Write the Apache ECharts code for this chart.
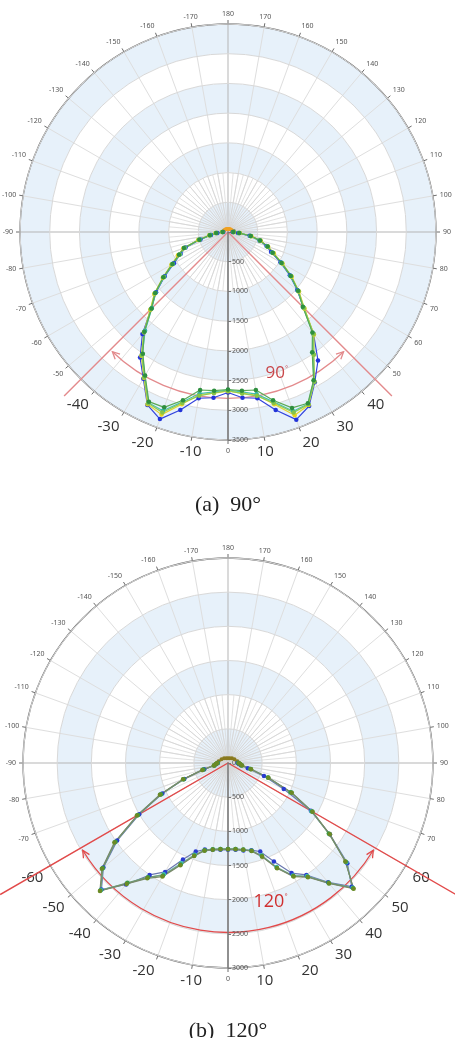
<!DOCTYPE html>
<html>
<head>
<meta charset="utf-8">
<script src="https://cdn.jsdelivr.net/npm/echarts@6/dist/echarts.min.js"></script>
<style>
html, body { margin: 0; padding: 0; background: #fff; }
#chart { width: 455px; height: 1038px; }
</style>
</head>
<body>
<div id="chart"></div>
<script>
// measuring angles of the front half, degrees (0 = straight down, + to the right)
var angles = [-90,-85,-80,-75,-70,-65,-60,-55,-50,-45,-40,-35,-30,-25,-20,-15,-10,-5,0,5,10,15,20,25,30,35,40,45,50,55,60,65,70,75,80,85,90];
// back half, only a few small values near the centre
var backAngles = [100,120,140,160,180,-160,-140,-120,-100];

// (a) 90 deg
var blueA   = [80,180,290,480,760,880,1050,1300,1580,1830,2240,2580,2850,3210,3350,3100,2840,2800,2700,2800,2840,3100,3360,3230,2920,2640,2240,1800,1520,1270,1020,800,690,550,370,170,80];
var greenA  = [90,200,310,500,790,910,1080,1330,1600,1820,2190,2500,2790,3150,3140,2930,2700,2680,2650,2680,2700,2930,3150,3180,2880,2470,2210,1780,1540,1290,1040,830,710,560,390,190,90];
var yellowA = [100,210,320,520,800,930,1100,1340,1620,1850,2200,2540,2830,3200,3270,3000,2780,2720,2680,2720,2790,3000,3280,3210,2900,2510,2250,1820,1560,1310,1060,850,720,570,400,200,100];
var tealA   = [90,195,300,490,770,890,1070,1310,1590,1810,2170,2510,2800,3170,3200,2960,2760,2700,2660,2700,2770,2960,3210,3190,2890,2490,2220,1790,1530,1280,1030,820,700,550,380,185,90];
var limeA   = [95,205,315,510,780,900,1090,1320,1610,1840,2200,2530,2820,3180,3230,2980,2800,2720,2670,2730,2800,2980,3230,3200,2910,2520,2240,1810,1550,1300,1050,840,710,560,390,195,95];
var backA   = [80,70,60,55,50,55,60,70,80];

// (b) 120 deg
var blueB  = [150,170,200,360,680,1060,1500,1980,2380,2620,2320,2000,1840,1560,1380,1310,1290,1275,1270,1275,1300,1320,1380,1590,1860,2000,2280,2560,2280,1820,1400,900,560,300,190,160,140];
var oliveB = [160,180,210,390,700,1100,1540,2030,2410,2650,2310,2060,1920,1650,1450,1330,1290,1268,1263,1268,1290,1335,1460,1700,1920,2040,2300,2600,2240,1820,1430,1030,630,350,210,180,160];
var greenB = [150,175,205,370,690,1080,1520,2010,2390,2640,2290,2040,1900,1640,1440,1320,1280,1262,1258,1262,1285,1330,1450,1690,1910,2030,2290,2590,2250,1800,1420,1010,620,340,200,175,150];
var tealB  = [155,178,208,380,695,1090,1530,2020,2400,2630,2300,2050,1880,1620,1430,1325,1285,1265,1260,1265,1288,1328,1440,1680,1900,2020,2295,2580,2260,1810,1410,1020,625,345,205,178,155];
var backB  = [140,110,90,75,70,75,90,110,140];

// beam angle marks: half angle, ray length, arc radius, label radius/angle
var beamA = { half: 45, ray: 3900, arcR: 2800, arcHalf: 44, text: '90', textR: 2520, textAng: 19 };
var beamB = { half: 60, ray: 3850, arcR: 2480, arcHalf: 59, text: '120', textR: 2130, textAng: 17 };

var panels = [
  { cy: 232, r: 208, max: 3500, big: 40, beam: beamA, red: '#e38a8c', redText: '#c9474a', fs: 17,
    back: backA, backColor: '#f0a020',
    curves: [
      { v: blueA, line: '#3344dd', dot: '#2233d8' },
      { v: yellowA, line: '#e6d42a', dot: '#e8d41c' },
      { v: tealA, line: '#48bfb0', dot: '#35b5a5' },
      { v: limeA, line: '#8fcc55', dot: '#86c448' },
      { v: greenA, line: '#5aaa55', dot: '#2f8f3f' }
    ] },
  { cy: 763, r: 205, max: 3000, big: 60, beam: beamB, red: '#e24a4a', redText: '#d03030', fs: 18,
    back: backB, backColor: '#8a7a1e',
    curves: [
      { v: blueB, line: '#6a78b0', dot: '#2a3bd0' },
      { v: tealB, line: '#78b8b4', dot: '#40c0b8' },
      { v: greenB, line: '#6e9c72', dot: '#3a9a45' },
      { v: oliveB, line: '#7a8a6a', dot: '#6b8a25' }
    ] }
];

function toAxis(a) { return a < 0 ? a + 360 : a; }

function angleLabel(bigLimit) {
  return function (v) {
    if (v >= 360) return '';
    var d = v > 180 ? v - 360 : v;
    if (d !== 0 && Math.abs(d) <= bigLimit) return '{big|' + d + '}';
    return '{small|' + d + '}';
  };
}

// two rays, the arc with an arrow head on both ends, and the angle text
function beamRender(params, api, p) {
  var r = api.value(0), a1 = api.value(1), a2 = api.value(2);
  var c = api.coord([0, 0]);
  var p1 = api.coord([r, a1]);
  var p2 = api.coord([r, a2]);
  var rad = Math.sqrt((p1[0] - c[0]) * (p1[0] - c[0]) + (p1[1] - c[1]) * (p1[1] - c[1]));
  var t1 = Math.atan2(p1[1] - c[1], p1[0] - c[0]);
  var t2 = Math.atan2(p2[1] - c[1], p2[0] - c[0]);
  var color = p.red;
  var tp = api.coord([api.value(3), api.value(4)]);
  // rays longer than the axis: scale the edge point outwards
  var k = api.value(6) / p.max;
  var e1 = api.coord([p.max, api.value(7)]);
  var e2 = api.coord([p.max, api.value(8)]);
  function far(e) { return [c[0] + (e[0] - c[0]) * k, c[1] + (e[1] - c[1]) * k]; }
  function head(pt, dx, dy) {
    var L = 8, s = 0.45;
    var cs = Math.cos(s), sn = Math.sin(s);
    var w1 = [pt[0] - L * (dx * cs - dy * sn), pt[1] - L * (dx * sn + dy * cs)];
    var w2 = [pt[0] - L * (dx * cs + dy * sn), pt[1] - L * (-dx * sn + dy * cs)];
    return { type: 'polyline', shape: { points: [w1, pt, w2] }, style: { stroke: color, lineWidth: 1.3, fill: null } };
  }
  return {
    type: 'group',
    children: [
      { type: 'polyline', shape: { points: [far(e1), c, far(e2)] }, style: { stroke: color, lineWidth: 1.4, fill: null } },
      { type: 'arc', shape: { cx: c[0], cy: c[1], r: rad, startAngle: t2, endAngle: t1, clockwise: true },
        style: { stroke: color, lineWidth: 1.3, fill: null } },
      head(p1, -Math.sin(t1), Math.cos(t1)),
      head(p2, Math.sin(t2), -Math.cos(t2)),
      { type: 'text', x: tp[0], y: tp[1],
        style: { text: api.value(5) + '{d|°}', fill: p.redText, fontSize: p.fs,
          fontFamily: 'Open Sans', align: 'center', verticalAlign: 'middle',
          rich: { d: { fontSize: 8, verticalAlign: 'top', padding: [0, 0, 8, 0] } } } }
    ]
  };
}

var option = {
  animation: false,
  polar: [],
  angleAxis: [],
  radiusAxis: [],
  series: [],
  graphic: [
    { type: 'text', x: 228, y: 505, style: { text: '(a)  90°', fontSize: 22, fontFamily: 'Liberation Serif', fill: '#222', align: 'center', verticalAlign: 'middle' } },
    { type: 'text', x: 228, y: 1031, style: { text: '(b)  120°', fontSize: 22, fontFamily: 'Liberation Serif', fill: '#222', align: 'center', verticalAlign: 'middle' } }
  ]
};

// darker line every 90 deg
var spokeColors = ['#b5b5b5', '#dedede', '#dedede', '#dedede', '#dedede', '#dedede', '#dedede', '#dedede', '#dedede'];
var hidden = { axisLine: { show: false }, axisTick: { show: false }, axisLabel: { show: false }, splitLine: { show: false } };

panels.forEach(function (p) {
  var base = option.polar.length;
  var main = base + 1;
  // base: only the shaded rings
  option.polar.push({ center: [228, p.cy], radius: p.r });
  // main: lines, labels and series
  option.polar.push({ center: [228, p.cy], radius: p.r });
  // denser spokes near the centre
  option.polar.push({ center: [228, p.cy], radius: p.r * 1000 / p.max });

  option.angleAxis.push(Object.assign({ polarIndex: base, type: 'value', min: 0, max: 360, startAngle: 270, clockwise: false, z: 0 }, hidden));
  option.radiusAxis.push(Object.assign({ polarIndex: base, type: 'value', min: 0, max: p.max, interval: 500, z: 0 }, hidden,
    { splitArea: { show: true, areaStyle: { color: ['#e7f1fa', '#ffffff'] } } }));

  option.angleAxis.push({
    polarIndex: main, type: 'value', min: 0, max: 360, interval: 10,
    startAngle: 270, clockwise: false, z: 1,
    axisLine: { lineStyle: { color: '#6c6c6c', width: 1.3 } },
    axisTick: { show: true, length: 4, lineStyle: { color: '#6c6c6c' } },
    axisLabel: {
      margin: 7, formatter: angleLabel(p.big),
      rich: {
        small: { fontSize: 7, color: '#555', fontFamily: 'Noto Sans' },
        big: { fontSize: 15, color: '#333', fontFamily: 'Open Sans', padding: [1, 1, 1, 1] }
      }
    },
    splitLine: { show: true, lineStyle: { color: spokeColors, width: 1 } }
  });
  option.radiusAxis.push({
    polarIndex: main, type: 'value', min: 0, max: p.max, interval: 500, z: 2,
    axisLine: { show: true, lineStyle: { color: '#777', width: 1.5 } },
    axisTick: { show: true, inside: true, length: 3, lineStyle: { color: '#777' } },
    axisLabel: { inside: true, fontSize: 7, color: '#555', fontFamily: 'Noto Sans', margin: 4,
      formatter: function (v) { return String(v); } },
    splitLine: { show: true, lineStyle: { color: '#d8d8d8', width: 1 } },
    splitArea: { show: false }
  });

  option.angleAxis.push({
    polarIndex: main + 1, type: 'value', min: 0, max: 360, interval: 5,
    startAngle: 270, clockwise: false, z: 1,
    axisLine: { show: false }, axisTick: { show: false }, axisLabel: { show: false },
    splitLine: { show: true, lineStyle: { color: '#d6d6d6', width: 0.7 } }
  });
  option.radiusAxis.push({ polarIndex: main + 1, type: 'value', min: 0, max: 1000, show: false });

  // rays, arc and label
  option.series.push({
    type: 'custom', coordinateSystem: 'polar', polarIndex: main, z: 2, silent: true, clip: false,
    renderItem: function (params, api) { return beamRender(params, api, p); },
    data: [[p.beam.arcR, toAxis(-p.beam.arcHalf), p.beam.arcHalf, p.beam.textR, p.beam.textAng, p.beam.text,
      p.beam.ray, toAxis(-p.beam.half), p.beam.half]]
  });

  option.series.push({
    type: 'line', coordinateSystem: 'polar', polarIndex: main, symbol: 'circle', symbolSize: 4, z: 3, silent: true,
    data: p.back.map(function (v, i) { return [v, toAxis(backAngles[i])]; }),
    lineStyle: { color: p.backColor, width: 1 }, itemStyle: { color: p.backColor }
  });

  p.curves.forEach(function (c) {
    option.series.push({
      type: 'line', coordinateSystem: 'polar', polarIndex: main, symbol: 'circle', symbolSize: 4.5, z: 4, silent: true,
      data: c.v.map(function (v, i) { return [v, toAxis(angles[i])]; }),
      lineStyle: { color: c.line, width: 1.2 }, itemStyle: { color: c.dot }
    });
  });
});

var chart = echarts.init(document.getElementById('chart'));
chart.setOption(option);
</script>
</body>
</html>
